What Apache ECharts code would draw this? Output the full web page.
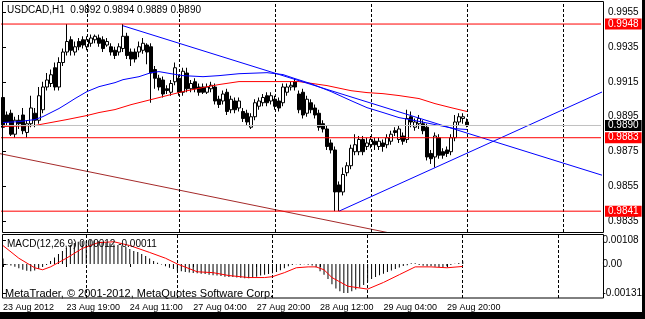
<!DOCTYPE html>
<html><head><meta charset="utf-8">
<script src="https://cdn.jsdelivr.net/npm/echarts@6/dist/echarts.min.js"></script>
<style>html,body{margin:0;padding:0;background:#fff}#c{width:645px;height:319px}</style>
</head><body><div id="c"></div>
<script>
const symbolName = 'USDCAD,H1';
const slotCount = 150;
const timeLabels = ['23 Aug 2012','23 Aug 19:00','24 Aug 11:00','27 Aug 04:00','27 Aug 20:00','28 Aug 12:00','29 Aug 04:00','29 Aug 20:00'];
const daySeparators = [21,44,68,92,116,140];
const priceTicks = [0.9955,0.9935,0.9915,0.9895,0.9875,0.9855,0.9835];
const macdTicks = [0.00108,0,-0.00131];

const opens = [.9906,.9896,.9897,.9885,.9893,.9896,.9886,.9891,.9897,.9893,.9899,.9912,.9914,.9923,.9912,.9926,.9932,.9939,.9932,.9938,
.9939,.9935,.9937,.9939,.9940,.9939,.9936,.9935,.9933,.9932,.9934,.9941,.9932,.9932,.9932,.9933,.9936,.9935,.9922,.9917,
.9916,.9911,.9909,.9915,.9917,.9909,.9920,.9911,.9915,.9912,.9912,.9909,.9911,.9912,.9905,.9904,.9909,.9899,.9904,.9900,
.9898,.9897,.9889,.9895,.9901,.9903,.9907,.9904,.9905,.9904,.9903,.9909,.9912,.9915,.9908,.9909,.9897,.9903,.9900,.9897,
.9891,.9888,.9880,.9876,.9856,.9852,.9863,.9867,.9875,.9875,.9882,.9878,.9879,.9881,.9878,.9880,.9879,.9881,.9887,.9882,
.9884,.9882,.9895,.9889,.9891,.9891,.9889,.9874,.9872,.9883,.9875,.9876,.9875,.9883,.9892,.9894,.9892];
const closes = [.9889,.9892,.9885,.9893,.9891,.9887,.9891,.9900,.9893,.9907,.9912,.9916,.9919,.9912,.9926,.9932,.9938,.9933,.9935,.9935,
.9936,.9939,.9940,.9941,.9937,.9934,.9938,.9932,.9930,.9935,.9941,.9930,.9928,.9928,.9935,.9937,.9932,.9920,.9917,.9912,
.9908,.9910,.9914,.9923,.9909,.9921,.9911,.9914,.9911,.9909,.9909,.9912,.9913,.9904,.9902,.9908,.9898,.9905,.9899,.9904,
.9894,.9892,.9895,.9903,.9904,.9906,.9903,.9907,.9901,.9900,.9912,.9912,.9913,.9912,.9899,.9896,.9905,.9899,.9896,.9889,
.9888,.9878,.9876,.9852,.9852,.9862,.9867,.9877,.9879,.9882,.9875,.9880,.9882,.9879,.9881,.9878,.9883,.9885,.9886,.9888,
.9881,.9894,.9892,.9892,.9894,.9887,.9872,.9871,.9884,.9873,.9873,.9874,.9883,.9892,.9895,.9895,.9890];
const lows = [.9887,.9890,.9884,.9883,.9888,.9885,.9883,.9889,.9889,.9891,.9897,.9910,.9912,.9910,.9910,.9924,.9930,.9930,.9930,.9933,
.9934,.9933,.9935,.9937,.9935,.9932,.9935,.9930,.9928,.9930,.9932,.9928,.9924,.9926,.9929,.9931,.9925,.9903,.9911,.9910,
.9906,.9908,.9907,.9913,.9907,.9907,.9909,.9909,.9909,.9907,.9908,.9908,.9909,.9902,.9900,.9902,.9896,.9897,.9897,.9898,
.9892,.9890,.9888,.9893,.9899,.9901,.9901,.9902,.9899,.9898,.9901,.9907,.9910,.9910,.9897,.9894,.9895,.9897,.9894,.9887,
.9886,.9876,.9874,.9841,.9841,.9850,.9861,.9865,.9873,.9873,.9873,.9876,.9877,.9876,.9876,.9875,.9877,.9879,.9884,.9880,
.9879,.9880,.9889,.9887,.9888,.9885,.9870,.9868,.9866,.9871,.9871,.9872,.9873,.9881,.9890,.9891,.9889];
const highs = [.9907,.9898,.9899,.9895,.9896,.9900,.9893,.9907,.9900,.9912,.9915,.9920,.9922,.9926,.9929,.9934,.9948,.9941,.9938,.9940,
.9941,.9941,.9942,.9942,.9942,.9941,.9940,.9937,.9935,.9937,.9948,.9943,.9934,.9934,.9938,.9940,.9937,.9937,.9924,.9919,
.9918,.9913,.9916,.9926,.9919,.9923,.9923,.9916,.9917,.9914,.9914,.9914,.9915,.9914,.9907,.9910,.9911,.9907,.9906,.9906,
.9900,.9899,.9897,.9905,.9906,.9908,.9909,.9909,.9907,.9906,.9914,.9914,.9915,.9917,.9910,.9911,.9907,.9905,.9902,.9899,
.9893,.9890,.9882,.9878,.9858,.9866,.9869,.9879,.9885,.9884,.9884,.9883,.9884,.9883,.9883,.9882,.9885,.9887,.9889,.9890,
.9886,.9899,.9898,.9894,.9896,.9893,.9891,.9876,.9886,.9885,.9877,.9878,.9885,.9896,.9897,.9897,.9894];

const maBlue = [[0,0.98917],[4,0.98922],[8,0.98934],[10,0.98951],[12,0.98974],[14,0.98997],[16,0.99025],[18,0.99054],[21,0.99094],[24,0.99122],[28,0.99145],[30,0.99162],[34,0.99179],[37,0.99202],[39,0.99208],[42,0.99196],[45,0.99185],[50,0.99179],[54,0.99185],[59,0.99196],[66,0.99202],[70,0.99191],[73,0.99168],[77,0.99139],[82,0.99094],[87,0.99042],[91,0.99002],[95,0.98974],[99,0.98945],[103,0.98928],[108,0.98905],[113,0.98882],[116,0.98877]];
const maRed = [[0,0.98894],[8,0.98900],[12,0.98917],[16,0.98934],[21,0.98957],[24,0.98974],[28,0.98991],[32,0.99019],[37,0.99048],[41,0.99071],[45,0.99094],[50,0.99117],[54,0.99134],[59,0.99151],[66,0.99151],[74,0.99151],[81,0.99128],[87,0.99099],[91,0.99088],[95,0.99082],[99,0.99071],[104,0.99054],[108,0.99025],[112,0.99002],[116,0.98980]];
const trendDown = [[30,0.9947],[150,0.98614]];
const trendUp = [[84,0.9841],[150,0.99094]];
const channelLow = [[-1,0.9874],[100,0.9827]];
const hLevels = [0.9948,0.9883,0.9841];

const macdMain = [0.00025,-0.00004,-0.00007,-0.00012,-0.00019,-0.00026,-0.00030,-0.00033,-0.00029,-0.00022,
-0.00013,-0.00004,0.00013,0.00029,0.00045,0.00059,0.00074,0.00086,0.00094,0.00100,
0.00103,0.00104,0.00108,0.00106,0.00104,0.00100,0.00097,0.00093,0.00088,0.00086,
0.00083,0.00077,0.00068,0.00059,0.00054,0.00045,0.00036,0.00025,0.00013,0.00006,
-0.00002,-0.00010,-0.00017,-0.00022,-0.00029,-0.00033,-0.00036,-0.00038,-0.00041,-0.00042,
-0.00044,-0.00045,-0.00048,-0.00051,-0.00052,-0.00054,-0.00057,-0.00058,-0.00059,-0.00061,
-0.00062,-0.00064,-0.00064,-0.00061,-0.00057,-0.00052,-0.00048,-0.00045,-0.00042,-0.00036,
-0.00028,-0.00019,-0.00010,-0.00004,-0.00001,-0.00003,-0.00001,-0.00003,-0.00007,-0.00015,
-0.00033,-0.00048,-0.00067,-0.00091,-0.00110,-0.00123,-0.00131,-0.00130,-0.00123,-0.00115,
-0.00106,-0.00094,-0.00080,-0.00067,-0.00058,-0.00051,-0.00044,-0.00036,-0.00029,-0.00022,
-0.00016,-0.00009,-0.00006,0.00003,0.00003,-0.00004,-0.00008,-0.00010,-0.00009,-0.00012,
-0.00013,-0.00015,-0.00010,-0.00005,0.00001,0.00005,0.00012];
const macdSignal = [[0,0.00083],[4,0.00026],[8,-0.00017],[10,-0.00026],[12,-0.00013],[16,0.00026],[20,0.00070],[24,0.00096],[28,0.00100],[32,0.00083],[37,0.00052],[41,0.00026],[44,0.00000],[49,-0.00035],[53,-0.00039],[57,-0.00052],[62,-0.00061],[66,-0.00061],[68,-0.00057],[71,-0.00039],[74,-0.00017],[77,-0.00013],[79,-0.00013],[81,-0.00026],[83,-0.00061],[87,-0.00100],[92,-0.00113],[96,-0.00083],[100,-0.00048],[104,-0.00013],[108,-0.00013],[112,-0.00017],[116,-0.00011]];

const FONT = 'Liberation Sans';
const cats = Array.from({length: slotCount}, (_, i) => i);
const candles = opens.map((o, i) => [o, closes[i], lows[i], highs[i]]);
const last = opens.length - 1;
const bid = closes[last];
const f4 = v => v.toFixed(4);

function levelSeries(v, lineColor, bg, z) {
  return {type: 'line', xAxisIndex: 1, yAxisIndex: 0, z: z, silent: true,
    data: [[-0.5, v], [slotCount - 0.5, v]], showSymbol: false, clip: false,
    lineStyle: {color: lineColor, width: 1},
    endLabel: {show: true, distance: 4, formatter: f4(v), color: '#fff',
      backgroundColor: bg, padding: [1, 3, 1, 3], fontFamily: FONT, fontSize: 10, lineHeight: 9}};
}
const sepLines = daySeparators.map(x => ({xAxis: x}));
const sepStyle = {color: '#000', width: 1, type: [3, 2]};

const chart = echarts.init(document.getElementById('c'), null, {renderer: 'canvas'});
chart.setOption({
  animation: false,
  backgroundColor: '#fff',
  grid: [
    {left: 1, top: 2, width: 600, height: 230},
    {left: 1, top: 234, width: 600, height: 64}
  ],
  xAxis: [
    {type: 'category', gridIndex: 0, data: cats, boundaryGap: true, show: false},
    {type: 'value', gridIndex: 0, min: -0.5, max: slotCount - 0.5, show: false},
    {type: 'category', gridIndex: 1, data: cats, boundaryGap: true,
      axisLine: {show: false},
      axisTick: {show: true, length: 3, alignWithLabel: true, interval: i => i % 16 === 0 && i / 16 < timeLabels.length, lineStyle: {color: '#000'}},
      axisLabel: {interval: i => i % 16 === 0 && i / 16 < timeLabels.length, formatter: (v, i) => timeLabels[i / 16] || '',
        align: 'left', margin: 5, color: '#000', fontFamily: FONT, fontSize: 9},
      splitLine: {show: false}},
    {type: 'value', gridIndex: 1, min: -0.5, max: slotCount - 0.5, show: false}
  ],
  yAxis: [
    {type: 'value', gridIndex: 0, position: 'right', offset: 2, min: 0.98291, max: 0.99606,
      axisLine: {show: false}, splitLine: {show: false},
      axisTick: {show: true, length: 3, customValues: priceTicks, lineStyle: {color: '#000'}},
      axisLabel: {customValues: priceTicks, formatter: v => f4(v), margin: 5, color: '#000', fontFamily: FONT, fontSize: 10}},
    {type: 'value', gridIndex: 1, position: 'right', offset: 2, min: -0.00153, max: 0.00135,
      axisLine: {show: false}, splitLine: {show: false},
      axisTick: {show: true, length: 3, customValues: macdTicks, lineStyle: {color: '#000'}},
      axisLabel: {customValues: macdTicks, formatter: v => Math.abs(v) < 1e-9 ? '0.00' : v.toFixed(5), margin: 5, color: '#000', fontFamily: FONT, fontSize: 10}}
  ],
  series: [
    {type: 'candlestick', xAxisIndex: 0, yAxisIndex: 0, data: candles, barWidth: 3, z: 3,
      itemStyle: {color: '#fff', color0: '#000', borderColor: '#000', borderColor0: '#000', borderWidth: 1}},
    levelSeries(bid, '#C0C0C0', '#000', 6),
    ...hLevels.map(v => levelSeries(v, '#FF0000', '#FF0000', 6)),
    {type: 'line', xAxisIndex: 1, yAxisIndex: 0, data: channelLow, showSymbol: false, z: 4,
      lineStyle: {color: '#A52A2A', width: 1}},
    {type: 'line', xAxisIndex: 1, yAxisIndex: 0, data: maRed, showSymbol: false, z: 5,
      lineStyle: {color: '#FF0000', width: 1}},
    {type: 'line', xAxisIndex: 1, yAxisIndex: 0, data: maBlue, showSymbol: false, z: 5,
      lineStyle: {color: '#0000FF', width: 1},
      markLine: {symbol: 'none', silent: true, label: {show: false}, lineStyle: sepStyle, data: sepLines}},
    {type: 'line', xAxisIndex: 1, yAxisIndex: 0, data: trendDown, showSymbol: false, z: 5,
      lineStyle: {color: '#0000FF', width: 1}},
    {type: 'line', xAxisIndex: 1, yAxisIndex: 0, data: trendUp, showSymbol: false, z: 5,
      lineStyle: {color: '#0000FF', width: 1}},
    {type: 'bar', xAxisIndex: 2, yAxisIndex: 1, data: macdMain, barWidth: 1, itemStyle: {color: '#000'}},
    {type: 'line', xAxisIndex: 3, yAxisIndex: 1, data: macdSignal, showSymbol: false, z: 5,
      lineStyle: {color: '#FF0000', width: 1},
      markLine: {symbol: 'none', silent: true, label: {show: false}, lineStyle: sepStyle, data: sepLines}}
  ],
  graphic: [
    {type: 'rect', shape: {x: 2.5, y: 1.5, width: 601, height: 231}, style: {fill: null, stroke: '#000', lineWidth: 1}, z: 50},
    {type: 'rect', shape: {x: 2.5, y: 234.5, width: 601, height: 63.5}, style: {fill: null, stroke: '#000', lineWidth: 1}, z: 50},
    {type: 'rect', shape: {x: 642, y: 0, width: 3, height: 319}, style: {fill: '#000'}, z: 60},
    {type: 'rect', shape: {x: 0, y: 312, width: 645, height: 7}, style: {fill: '#000'}, z: 60},
    {type: 'text', x: 7, y: 10.5, z: 70, style: {text: symbolName + '  ' + [opens[last], highs[last], lows[last], closes[last]].map(f4).join(' '),
      fill: '#000', font: '10px "' + FONT + '"', verticalAlign: 'middle'}},
    {type: 'text', x: 7, y: 244.5, z: 70, style: {text: 'MACD(12,26,9) ' + macdMain[last].toFixed(5) + ' ' + macdSignal[macdSignal.length - 1][1].toFixed(5),
      fill: '#000', font: '10px "' + FONT + '"', verticalAlign: 'middle'}},
    {type: 'text', x: 5, y: 293.5, z: 70, style: {text: 'MetaTrader, © 2001-2012, MetaQuotes Software Corp.',
      fill: '#000', font: '11px "' + FONT + '"', verticalAlign: 'middle'}}
  ]
});
</script></body></html>
